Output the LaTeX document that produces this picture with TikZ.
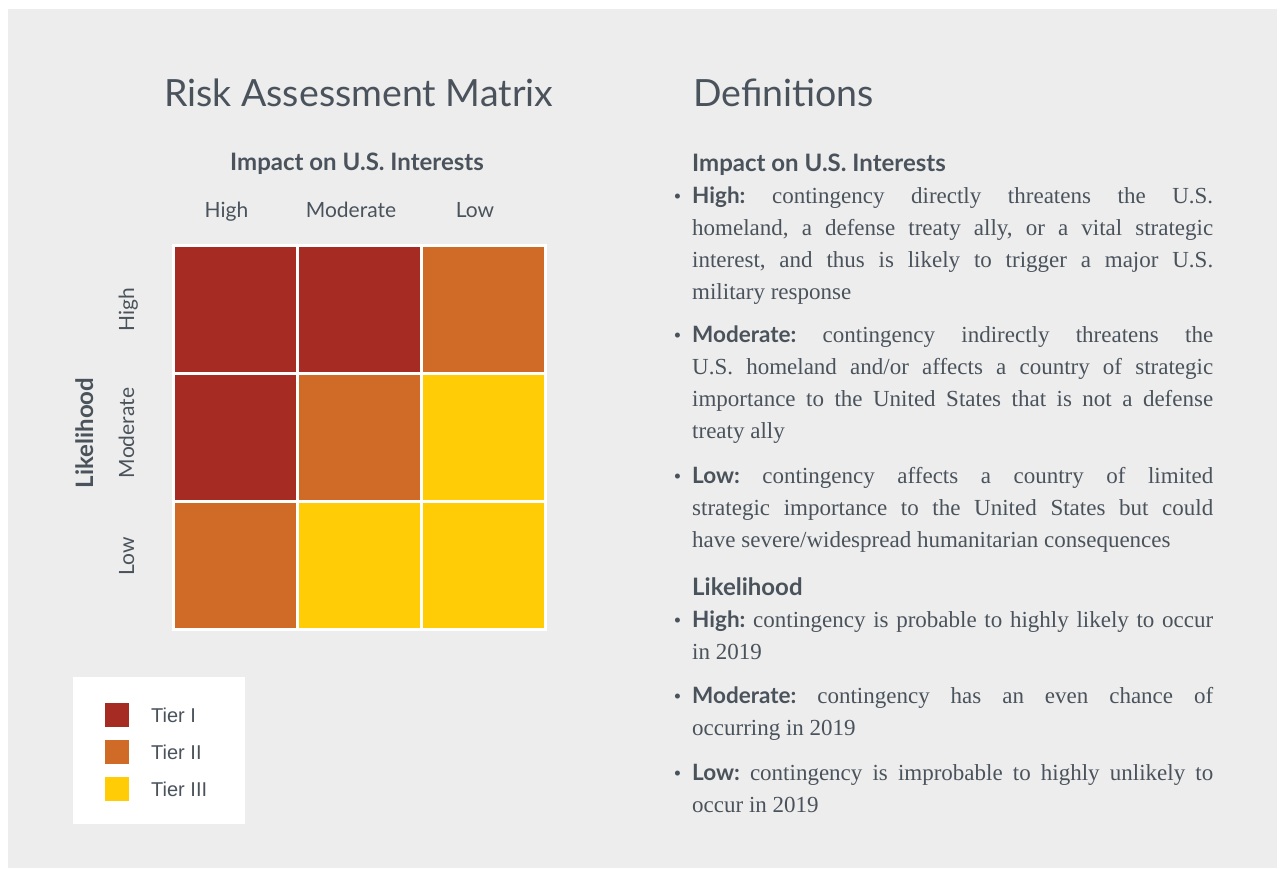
\documentclass[tikz,border=0pt]{standalone}
\usepackage{fontspec}
\setmainfont{Liberation Serif}
\newfontfamily\hfont{Lato}
\newfontfamily\lfont{Liberation Sans}
\definecolor{bg}{HTML}{EDEDED}
\definecolor{txt}{HTML}{4A535C}
\definecolor{tierA}{HTML}{A62B22}
\definecolor{tierB}{HTML}{D06B27}
\definecolor{tierC}{HTML}{FFCC05}
\newcommand\deffont{\fontsize{23}{32}\selectfont}
\newcommand\lab[1]{{\hfont\bfseries\fontsize{22.5}{32}\selectfont #1}}
\newcommand\bul{\strut\llap{{\fontsize{21}{21}\selectfont\textbullet}\hspace{11pt}}}
\setlength{\parindent}{0pt}
\begin{document}
\frenchspacing
\tolerance=10000
\hyphenpenalty=10000
\begin{tikzpicture}[x=1pt,y=-1pt,
  cell/.style={draw=white, line width=3pt, minimum width=124pt, minimum height=128pt, inner sep=0pt, outer sep=0pt, anchor=north west},
  key/.style={minimum width=24pt, minimum height=24pt, inner sep=0pt, anchor=north west},
  keylab/.style={anchor=west, inner sep=0pt, text=txt, font=\lfont\fontsize{20}{24}\selectfont},
  title/.style={anchor=base west, inner sep=0pt, text=txt, font=\hfont\fontsize{37.5}{40}\selectfont},
  head/.style={inner sep=0pt, text=txt, font=\hfont\bfseries\fontsize{24}{26}\selectfont},
  axis/.style={anchor=base, inner sep=0pt, text=txt, font=\hfont\fontsize{21}{24}\selectfont},
  defpar/.style={anchor=north west, inner sep=0pt, text width=521pt, align=justify, text=txt, font=\deffont}]
\useasboundingbox (0,0) rectangle (1282,868);
\fill[white] (0,0) rectangle (1282,868);
\fill[bg] (8,9) rectangle (1277,868);

% titles
\node[title] (t1) at (164,106) {Risk Assessment Matrix};
\node[title] (t2) at (693,106) {Definitions};

% matrix headings
\node[head, anchor=base] (imp) at (357,170) {Impact on U.S. Interests};
\node[axis] (ch) at (226.5,217) {High};
\node[axis] (cm) at (351,217) {Moderate};
\node[axis] (cl) at (475,217) {Low};
\node[head, anchor=base, rotate=90] (lik) at (93,433) {Likelihood};
\node[axis, rotate=90] (rh) at (134,310) {High};
\node[axis, rotate=90] (rm) at (134,433) {Moderate};
\node[axis, rotate=90] (rl) at (134,556) {Low};

% matrix cells
\node[cell, fill=tierA] (c11) at (173.5,245.5) {};
\node[cell, fill=tierA] (c12) at (297.5,245.5) {};
\node[cell, fill=tierB] (c13) at (421.5,245.5) {};
\node[cell, fill=tierA] (c21) at (173.5,373.5) {};
\node[cell, fill=tierB] (c22) at (297.5,373.5) {};
\node[cell, fill=tierC] (c23) at (421.5,373.5) {};
\node[cell, fill=tierB] (c31) at (173.5,501.5) {};
\node[cell, fill=tierC] (c32) at (297.5,501.5) {};
\node[cell, fill=tierC] (c33) at (421.5,501.5) {};

% legend
\fill[white] (73,677) rectangle (245,824);
\node[key, fill=tierA] (k1) at (105,703) {};
\node[key, fill=tierB] (k2) at (105,740) {};
\node[key, fill=tierC] (k3) at (105,777) {};
\node[keylab] (l1) at (151,715) {Tier I};
\node[keylab] (l2) at (151,752) {Tier II};
\node[keylab] (l3) at (151,789) {Tier III};

% definitions
\node[head, anchor=base west] (dimp) at (692,171.5) {Impact on U.S. Interests};
\node[defpar] (d1) at (692,181) {\bul\lab{High:} contingency directly threatens the U.S.\linebreak homeland, a defense treaty ally, or a vital strategic\linebreak interest, and thus is likely to trigger a major U.S.\linebreak military response};
\node[defpar] (d2) at (692,320) {\bul\lab{Moderate:} contingency indirectly threatens the\linebreak U.S. homeland and/or affects a country of strategic\linebreak importance to the United States that is not a defense\linebreak treaty ally};
\node[defpar] (d3) at (692,460.5) {\bul\lab{Low:} contingency affects a country of limited\linebreak strategic importance to the United States but could\linebreak have severe/widespread humanitarian consequences};
\node[head, anchor=base west] (dlik) at (692,595) {Likelihood};
\node[defpar] (d4) at (692,604.5) {\bul\lab{High:} contingency is probable to highly likely to occur\linebreak in 2019};
\node[defpar] (d5) at (692,680.5) {\bul\lab{Moderate:} contingency has an even chance of\linebreak occurring in 2019};
\node[defpar] (d6) at (692,757.5) {\bul\lab{Low:} contingency is improbable to highly unlikely to\linebreak occur in 2019};
\end{tikzpicture}
\end{document}
